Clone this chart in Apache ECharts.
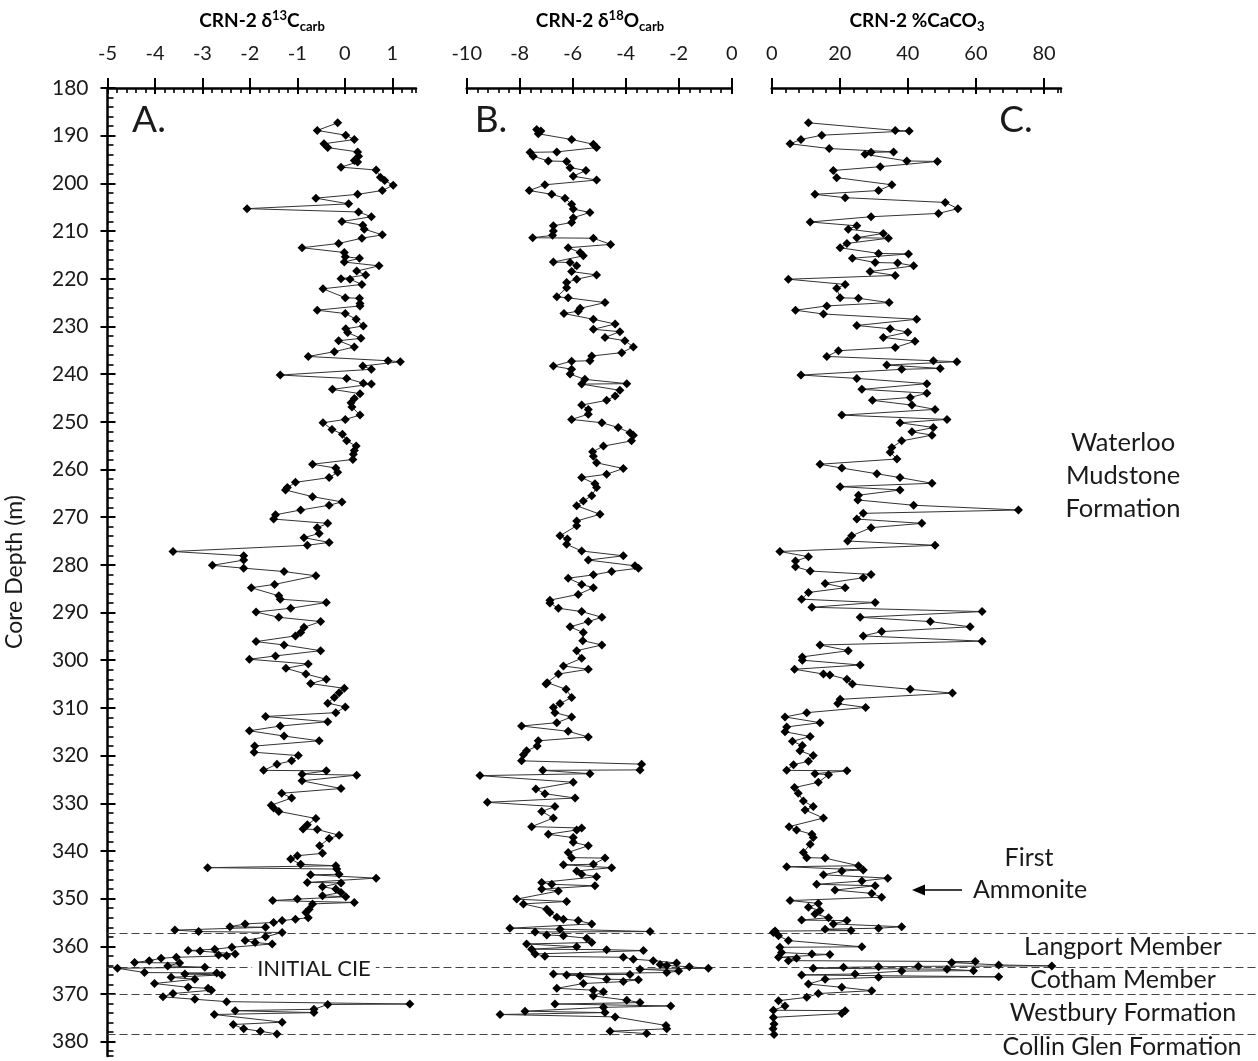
<!DOCTYPE html>
<html>
<head>
<meta charset="utf-8">
<title>CRN-2 core profiles</title>
<script src="https://cdn.jsdelivr.net/npm/echarts@6/dist/echarts.min.js"></script>
<style>
  html, body { margin: 0; padding: 0; background: #fff; }
  #main { width: 1258px; height: 1061px; }
</style>
</head>
<body>
<div id="main"></div>
<script>
// depth axis (m), shared by all three panels
const depthTicks = [180, 190, 200, 210, 220, 230, 240, 250, 260, 270, 280, 290, 300, 310, 320, 330, 340, 350, 360, 370, 380];
const c13Ticks = [-5, -4, -3, -2, -1, 0, 1];
const o18Ticks = [-10, -8, -6, -4, -2, 0];
const caco3Ticks = [0, 20, 40, 60, 80];

// formation boundaries (dashed lines)
const boundaryDepths = [357.2, 364.3, 370.1, 378.5];

// [depth, d13C carb]
const c13Carb = [
  [187.3, -0.15], [188.9, -0.58], [189.9, 0.02], [190.8, 0.20], [191.7, -0.44], [192.5, -0.36], [193.4, 0.27], [194.3, 0.29],
  [195.2, 0.20], [195.5, 0.27], [196.6, -0.08], [197.2, 0.66], [198.7, 0.75], [199.4, 0.84], [200.4, 1.02], [201.5, 0.79],
  [202.3, 0.27], [203.1, -0.61], [204.3, 0.08], [205.3, -2.06], [206.0, 0.29], [207.0, 0.56], [208.0, -0.06], [208.8, 0.38],
  [209.6, 0.41], [210.8, 0.79], [211.5, 0.36], [212.6, -0.13], [213.5, -0.90], [214.5, -0.01], [215.4, 0.01], [215.7, 0.31],
  [216.5, -0.01], [217.3, 0.72], [218.4, 0.25], [219.2, 0.44], [220.0, -0.08], [220.1, 0.11], [221.2, 0.36], [222.1, -0.46],
  [224.0, 0.01], [224.1, 0.31], [225.2, 0.32], [225.7, 0.32], [226.6, -0.58], [227.3, 0.01], [228.5, 0.24], [229.9, 0.39],
  [230.5, 0.02], [231.3, 0.06], [232.5, 0.34], [233.0, -0.13], [234.3, 0.20], [235.3, -0.22], [236.3, -0.77], [237.2, 0.91],
  [237.4, 1.17], [238.3, 0.38], [239.0, 0.56], [240.2, -1.36], [240.9, 0.04], [241.9, 0.39], [242.1, 0.56], [243.2, -0.26],
  [244.1, 0.32], [245.1, 0.20], [246.0, 0.13], [246.9, 0.15], [248.6, 0.32], [249.5, 0.01], [250.2, -0.46], [251.6, -0.27],
  [252.6, -0.05], [254.0, 0.04], [255.1, 0.24], [256.0, 0.20], [256.8, 0.18], [257.9, 0.17], [258.9, -0.68], [259.7, -0.19],
  [260.6, -0.15], [261.7, -0.33], [262.7, -1.04], [263.8, -1.21], [264.3, -1.25], [265.7, -0.68], [266.8, -0.06], [267.5, -0.33],
  [268.5, -0.93], [269.5, -1.46], [270.4, -1.50], [271.3, -0.36], [272.2, -0.58], [273.4, -0.54], [274.3, -0.86], [275.3, -0.33],
  [275.9, -0.79], [277.2, -3.62], [278.1, -2.13], [279.0, -2.13], [280.1, -2.79], [280.7, -2.13], [281.4, -1.28], [282.3, -0.61],
  [284.1, -1.48], [284.8, -1.97], [286.5, -1.39], [287.2, -1.36], [287.9, -0.39], [289.1, -1.14], [289.9, -1.87], [291.0, -1.39],
  [291.9, -0.51], [293.1, -0.86], [294.2, -0.93], [294.9, -1.04], [296.1, -1.87], [296.8, -1.28], [298.0, -0.51], [299.1, -1.46],
  [299.8, -2.01], [300.8, -0.77], [301.7, -1.24], [302.9, -0.82], [304.0, -0.39], [304.9, -0.72], [305.9, -0.01], [306.8, -0.12],
  [307.8, -0.22], [309.0, -0.36], [309.8, 0.01], [311.0, -0.19], [311.8, -1.67], [312.9, -0.36], [313.8, -1.36], [314.8, -2.01],
  [315.9, -1.28], [316.9, -0.54], [318.0, -1.90], [319.3, -1.91], [320.0, -0.98], [321.1, -1.12], [321.8, -1.43], [323.1, -1.71],
  [323.2, -0.39], [323.9, -0.90], [324.1, 0.25], [325.3, -0.90], [326.9, -0.08], [327.9, -1.33], [328.9, -1.12], [330.4, -1.55],
  [331.0, -1.50], [331.7, -1.39], [333.2, -0.61], [334.5, -0.79], [335.4, -0.88], [335.5, -0.58], [336.7, -0.12], [337.4, -0.33],
  [338.9, -0.53], [340.5, -0.47], [341.0, -1.00], [341.7, -1.14], [342.8, -0.93], [343.1, -0.19], [343.5, -2.89], [343.8, -0.17],
  [344.9, -0.12], [345.0, -0.72], [345.7, 0.66], [346.6, -0.79], [346.7, -0.08], [347.5, -0.47], [348.0, -0.19], [348.7, -0.08],
  [349.4, -0.47], [349.6, 0.02], [350.1, -1.00], [350.4, -1.52], [350.8, 0.20], [351.1, -0.68], [352.2, -0.75], [352.9, -0.82],
  [354.0, -0.77], [354.3, -1.04], [354.6, -1.32], [355.0, -1.50], [355.3, -2.10], [355.9, -2.42], [356.0, -1.67], [356.6, -3.58],
  [356.9, -3.08], [357.1, -1.32], [358.0, -1.67], [358.8, -2.10], [359.2, -1.89], [359.5, -1.53], [360.2, -2.38], [360.6, -2.74],
  [360.9, -3.30], [361.0, -3.05], [361.6, -2.31], [361.8, -2.66], [362.0, -2.49], [362.3, -3.55], [362.5, -3.87], [363.0, -4.12],
  [363.4, -4.43], [363.5, -3.48], [364.1, -3.73], [364.4, -2.95], [364.6, -4.79], [365.5, -4.22], [365.6, -2.70], [365.8, -3.37],
  [366.0, -2.59], [366.5, -3.66], [366.9, -3.16], [367.8, -4.01], [368.6, -3.30], [368.8, -2.88], [369.2, -2.81], [369.9, -3.62],
  [370.6, -3.83], [371.1, -3.16], [371.6, -2.49], [372.1, 1.37], [372.2, -0.36], [373.2, -0.65], [373.5, -2.31], [373.9, -0.65],
  [374.3, -2.75], [375.9, -1.32], [376.4, -2.35], [377.3, -2.13], [377.8, -1.78], [378.4, -1.43]
];

// [depth, d18O carb]
const o18Carb = [
  [188.7, -7.36], [189.0, -7.20], [189.6, -7.30], [190.8, -6.04], [191.8, -5.22], [192.5, -5.10], [193.4, -6.60], [193.5, -7.61],
  [194.3, -7.49], [195.3, -6.92], [195.4, -6.23], [196.7, -6.10], [197.3, -5.50], [198.5, -5.98], [199.3, -5.10], [200.3, -7.05],
  [201.5, -7.64], [202.3, -6.79], [203.1, -6.29], [204.4, -6.04], [205.4, -5.98], [206.1, -5.35], [207.2, -5.98], [208.2, -6.04],
  [208.9, -6.73], [210.0, -6.73], [210.9, -6.76], [211.4, -7.51], [211.5, -5.22], [212.8, -4.57], [213.5, -6.17], [214.5, -5.72],
  [215.2, -5.60], [216.5, -6.73], [216.6, -6.10], [217.3, -5.85], [218.5, -6.04], [219.2, -5.10], [220.1, -5.85], [220.8, -6.23],
  [221.9, -6.23], [223.8, -6.60], [224.0, -6.17], [225.0, -4.78], [226.2, -5.72], [226.8, -5.79], [227.3, -6.33], [228.5, -5.22],
  [229.5, -4.40], [230.6, -5.22], [231.1, -4.22], [232.3, -4.78], [233.0, -4.03], [234.3, -3.71], [235.5, -4.15], [236.2, -5.28],
  [237.2, -5.35], [237.3, -6.04], [238.3, -6.73], [239.0, -6.04], [240.0, -6.10], [241.1, -5.54], [242.0, -3.96], [242.1, -5.66],
  [243.4, -4.22], [244.6, -4.40], [245.5, -4.72], [246.5, -5.66], [247.4, -5.41], [248.4, -5.41], [249.5, -6.04], [250.2, -4.90],
  [251.2, -4.28], [252.3, -3.84], [252.8, -3.71], [254.0, -3.78], [255.1, -4.84], [256.3, -5.25], [257.2, -5.22], [258.6, -5.10],
  [259.8, -4.09], [261.0, -4.72], [261.7, -5.66], [263.0, -5.16], [263.8, -5.10], [265.5, -5.28], [266.6, -5.60], [267.6, -5.85],
  [269.4, -4.97], [270.8, -5.85], [271.8, -5.85], [273.9, -6.48], [274.6, -6.20], [275.7, -6.23], [277.1, -5.66], [278.1, -4.09],
  [279.0, -5.41], [280.2, -3.65], [280.7, -3.52], [281.4, -4.53], [282.1, -5.22], [282.8, -6.17], [284.1, -5.66], [284.8, -5.22],
  [286.2, -5.79], [287.4, -6.86], [288.0, -6.86], [289.1, -6.54], [289.8, -5.66], [291.0, -4.90], [291.9, -5.41], [293.0, -6.10],
  [294.2, -5.60], [295.9, -5.62], [296.8, -4.90], [298.0, -5.85], [299.6, -5.66], [301.2, -6.35], [301.9, -5.41], [302.9, -6.54],
  [304.7, -6.96], [305.0, -7.01], [306.1, -6.25], [307.8, -6.04], [309.1, -6.48], [309.9, -6.73], [311.0, -6.67], [311.9, -6.04],
  [313.1, -6.60], [313.8, -7.93], [314.9, -6.17], [316.1, -5.41], [316.9, -7.30], [318.0, -7.34], [319.0, -7.74], [319.8, -7.86],
  [321.1, -7.93], [321.8, -3.40], [323.0, -3.46], [323.1, -7.13], [323.8, -5.35], [324.2, -9.50], [325.6, -5.98], [327.0, -7.39],
  [328.0, -7.05], [328.9, -5.91], [329.8, -9.22], [330.7, -6.67], [331.7, -7.17], [333.1, -6.73], [334.9, -7.55], [335.2, -5.66],
  [335.6, -5.85], [336.5, -6.92], [337.2, -5.98], [338.2, -5.98], [338.9, -5.41], [340.3, -6.17], [341.4, -6.04], [341.5, -4.78],
  [342.8, -5.22], [342.9, -6.35], [343.5, -4.53], [344.2, -5.85], [344.9, -5.66], [345.4, -5.10], [346.6, -7.17], [347.0, -6.79],
  [347.3, -5.16], [348.0, -7.17], [348.4, -6.54], [350.1, -8.11], [350.6, -6.23], [351.1, -7.86], [352.2, -6.98], [352.9, -6.86],
  [353.9, -6.60], [354.3, -6.35], [354.6, -5.79], [355.3, -5.28], [356.2, -8.37], [356.4, -6.48], [356.9, -3.08], [357.0, -7.42],
  [357.6, -6.98], [357.8, -6.35], [358.3, -5.47], [359.2, -5.28], [359.5, -7.74], [360.1, -5.85], [360.6, -7.55], [360.7, -4.72],
  [360.9, -3.33], [361.6, -7.42], [362.1, -7.05], [362.3, -4.09], [362.7, -3.71], [363.0, -2.96], [363.5, -2.08], [363.8, -2.70],
  [364.0, -2.45], [364.3, -1.60], [364.6, -0.88], [364.8, -3.46], [365.2, -2.00], [365.5, -2.45], [365.8, -6.73], [365.9, -3.84],
  [366.0, -6.23], [366.2, -5.72], [366.9, -4.72], [367.0, -3.52], [367.4, -4.09], [367.8, -5.60], [368.8, -6.60], [369.2, -5.22],
  [369.5, -4.84], [370.4, -5.22], [371.3, -3.96], [371.8, -3.46], [372.1, -6.67], [372.5, -2.30], [372.8, -4.84], [373.6, -7.80],
  [373.9, -4.78], [374.3, -8.74], [374.8, -4.40], [376.6, -2.48], [377.3, -2.45], [377.8, -4.59], [378.3, -3.21]
];

// [depth, %CaCO3]
const caco3 = [
  [187.3, 10.8], [188.9, 36.3], [189.0, 40.4], [189.9, 14.7], [190.8, 8.6], [191.7, 5.4], [192.7, 16.9], [193.4, 35.8],
  [193.5, 29.2], [193.9, 27.4], [195.3, 39.7], [195.4, 48.7], [196.5, 31.9], [197.3, 18.1], [198.8, 19.1], [200.3, 35.3],
  [201.5, 31.4], [202.3, 12.7], [203.0, 21.6], [204.0, 51.0], [205.3, 54.7], [206.3, 49.0], [207.0, 29.2], [208.1, 11.3],
  [208.9, 25.0], [209.6, 22.5], [210.5, 32.8], [211.4, 25.0], [211.5, 34.3], [212.6, 22.1], [213.5, 20.1], [214.7, 31.4],
  [214.8, 40.2], [215.7, 23.7], [216.6, 30.4], [216.7, 37.0], [217.3, 41.7], [218.5, 28.9], [219.3, 36.3], [220.1, 4.9],
  [221.2, 21.6], [222.0, 19.1], [224.0, 20.1], [224.1, 25.5], [225.0, 34.5], [225.7, 16.2], [226.6, 7.0], [227.4, 15.2],
  [228.5, 42.6], [229.8, 25.0], [230.5, 34.8], [231.2, 40.0], [232.3, 32.8], [233.1, 42.1], [234.4, 36.3], [235.1, 19.6],
  [236.3, 16.2], [237.2, 47.5], [237.4, 54.4], [238.1, 33.8], [238.8, 49.5], [239.0, 38.2], [240.2, 8.6], [240.9, 25.0],
  [242.0, 45.6], [243.2, 26.5], [244.0, 45.6], [244.9, 40.7], [245.5, 29.6], [246.5, 41.2], [247.4, 48.0], [248.6, 20.6],
  [249.5, 51.5], [250.2, 37.7], [251.2, 47.5], [252.1, 41.2], [252.8, 47.1], [254.0, 38.2], [255.4, 35.3], [256.4, 34.8],
  [257.8, 36.8], [258.9, 14.2], [259.7, 20.6], [260.9, 30.9], [261.7, 37.7], [262.9, 47.1], [263.6, 20.1], [264.3, 37.7],
  [265.4, 25.5], [266.4, 25.3], [267.5, 41.7], [268.5, 72.5], [269.2, 26.9], [270.4, 25.0], [271.3, 44.1], [272.2, 29.2],
  [273.9, 23.5], [275.0, 22.3], [275.9, 48.0], [277.2, 2.4], [278.3, 10.8], [279.2, 7.0], [280.4, 7.0], [281.3, 11.3],
  [282.0, 29.2], [282.7, 26.9], [283.9, 15.7], [284.8, 21.6], [285.8, 10.8], [287.2, 8.8], [287.9, 30.4], [288.9, 11.8],
  [289.8, 61.8], [291.0, 26.0], [291.9, 46.6], [293.0, 58.3], [294.0, 32.3], [294.9, 26.9], [296.0, 61.8], [296.8, 14.2],
  [298.0, 22.5], [299.3, 9.0], [300.0, 9.0], [301.0, 26.0], [301.9, 6.7], [302.9, 15.2], [303.1, 17.1], [304.0, 22.1],
  [305.0, 23.7], [306.1, 40.7], [306.9, 53.1], [308.2, 20.1], [309.1, 19.4], [309.9, 27.6], [311.0, 10.3], [311.9, 3.9],
  [313.1, 14.2], [314.0, 4.4], [315.0, 3.9], [316.0, 11.3], [317.0, 6.1], [317.9, 9.0], [319.0, 8.3], [320.0, 12.2],
  [321.2, 10.8], [321.9, 6.4], [323.1, 4.4], [323.2, 22.1], [323.8, 12.7], [324.0, 16.7], [325.6, 13.7], [326.7, 6.7],
  [327.9, 7.8], [329.5, 9.3], [330.7, 12.2], [331.4, 9.8], [333.1, 15.2], [334.9, 5.1], [335.6, 7.3], [336.5, 11.8],
  [337.2, 12.2], [338.6, 11.3], [340.3, 9.3], [341.4, 10.3], [341.5, 15.7], [343.1, 25.5], [343.3, 4.4], [344.0, 26.9],
  [344.2, 20.6], [345.0, 15.2], [345.7, 34.1], [346.3, 26.5], [347.0, 13.2], [347.3, 30.4], [348.2, 18.6], [348.9, 29.4],
  [349.7, 32.3], [350.4, 5.4], [351.0, 13.7], [351.8, 10.8], [352.5, 14.2], [353.2, 12.7], [354.0, 16.7], [354.5, 8.8],
  [354.6, 22.1], [355.3, 18.1], [355.9, 38.2], [356.2, 31.4], [356.4, 15.7], [356.7, 23.3], [356.8, 1.0], [357.1, 0.5],
  [357.8, 2.0], [358.8, 4.9], [360.1, 26.5], [360.2, 2.4], [361.3, 2.9], [361.6, 11.8], [361.7, 17.1], [362.3, 2.0],
  [362.5, 7.3], [363.0, 4.9], [363.2, 59.8], [363.4, 52.9], [363.9, 66.7], [364.1, 82.3], [364.2, 43.1], [364.3, 31.4],
  [364.4, 21.1], [364.6, 12.2], [364.8, 51.5], [365.1, 59.3], [365.2, 38.2], [365.8, 24.5], [366.0, 8.8], [366.4, 66.7],
  [366.5, 31.4], [366.9, 15.7], [367.9, 10.8], [368.6, 20.6], [369.3, 29.4], [369.9, 13.7], [370.7, 10.3], [371.4, 2.0],
  [372.5, 3.9], [373.4, 0.5], [373.5, 21.6], [374.1, 20.6], [374.9, 0.5], [376.3, 0.7], [377.3, 0.4], [378.5, 0.7]
];

const FONT = 'Lato';
const INK = '#000';
const DEPTH_MIN = 180;
const DEPTH_MAX = 383;

// each panel: main axis (labels + inner half of the major ticks),
// a second axis for the outer half of the major ticks, and one for minor ticks
function topAxes(grid, min, max, ticks, minorStep) {
  const base = { gridIndex: grid, type: 'value', position: 'top', min: min, max: max, splitLine: { show: false } };
  return [
    Object.assign({}, base, {
      axisLine: { show: true, onZero: false, lineStyle: { color: INK, width: 2.5 } },
      axisTick: { show: true, inside: true, length: 6, customValues: ticks, lineStyle: { color: INK, width: 2 } },
      axisLabel: { show: true, customValues: ticks, margin: 24, fontSize: 20, color: '#1a1a1a', fontFamily: FONT }
    }),
    Object.assign({}, base, {
      axisLine: { show: false, onZero: false },
      axisTick: { show: true, inside: false, length: 10, customValues: ticks, lineStyle: { color: INK, width: 2 } },
      axisLabel: { show: false }
    }),
    Object.assign({}, base, {
      interval: minorStep,
      axisLine: { show: false, onZero: false },
      axisTick: { show: true, inside: true, length: 5, lineStyle: { color: INK, width: 1.6 } },
      axisLabel: { show: false }
    })
  ];
}

function depthAxis(grid, extra) {
  const axis = Object.assign({
    gridIndex: grid, type: 'value', inverse: true, position: 'left',
    min: DEPTH_MIN, max: DEPTH_MAX, splitLine: { show: false }
  }, extra);
  axis.axisLine = Object.assign({ onZero: false }, axis.axisLine || {});
  return axis;
}

const grids = [
  { left: 107.5, top: 88, width: 308.5, height: 968 },
  { left: 466.7, top: 88, width: 265, height: 968 },
  { left: 771.7, top: 88, width: 289.3, height: 968 },
  { left: 107.5, top: 88, right: 0, height: 968 }
].map(g => Object.assign({ outerBoundsMode: 'none', containLabel: false }, g));

const xAxes = []
  .concat(topAxes(0, -5, 1.5, c13Ticks, 0.2))
  .concat(topAxes(1, -10, 0, o18Ticks, 0.4))
  .concat(topAxes(2, 0, 85, caco3Ticks, 4))
  .concat([{ gridIndex: 3, type: 'value', min: 0, max: 1, show: false }]);

const yAxes = [
  depthAxis(0, {
    name: 'Core Depth (m)', nameLocation: 'middle', nameGap: 81,
    nameTextStyle: { fontSize: 23, color: '#1a1a1a', fontFamily: FONT },
    axisLine: { show: true, lineStyle: { color: INK, width: 2.5 } },
    axisTick: { show: true, inside: true, length: 8, customValues: depthTicks, lineStyle: { color: INK, width: 2 } },
    axisLabel: { show: true, customValues: depthTicks, margin: 19, fontSize: 21, color: '#1a1a1a', fontFamily: FONT }
  }),
  depthAxis(0, {
    axisLine: { show: false },
    axisTick: { show: true, inside: false, length: 7, customValues: depthTicks, lineStyle: { color: INK, width: 2 } },
    axisLabel: { show: false }
  }),
  depthAxis(0, {
    interval: 2,
    axisLine: { show: false },
    axisTick: { show: true, inside: true, length: 6, lineStyle: { color: INK, width: 1.6 } },
    axisLabel: { show: false }
  }),
  depthAxis(1, { show: false }),
  depthAxis(2, { show: false }),
  depthAxis(3, { show: false })
];

function profile(name, rows, xIndex, yIndex) {
  return {
    name: name, type: 'line', xAxisIndex: xIndex, yAxisIndex: yIndex,
    data: rows.map(r => [r[1], r[0]]),
    symbol: 'diamond', symbolSize: 9, showAllSymbol: true,
    itemStyle: { color: INK },
    lineStyle: { color: '#333', width: 1 },
    clip: true, z: 5
  };
}

function titleText(x, text, rich) {
  return {
    type: 'text', x: x, y: 21, z: 10,
    style: { text: text, rich: rich, align: 'center', verticalAlign: 'middle', fill: INK }
  };
}

const titleRich = {
  m: { fontSize: 19, fontWeight: 'bold', fontFamily: FONT, lineHeight: 24, verticalAlign: 'middle', fill: INK },
  sup: { fontSize: 13, fontWeight: 'bold', fontFamily: FONT, lineHeight: 13, verticalAlign: 'top', fill: INK },
  sub: { fontSize: 13, fontWeight: 'bold', fontFamily: FONT, lineHeight: 13, verticalAlign: 'bottom', fill: INK }
};

function label(x, y, text, size, extra) {
  return {
    type: 'text', x: x, y: y, z: 10,
    style: Object.assign({ text: text, fontSize: size, fontFamily: FONT, fill: '#1a1a1a', align: 'center', verticalAlign: 'middle' }, extra || {})
  };
}

const option = {
  animation: false,
  backgroundColor: '#fff',
  textStyle: { fontFamily: FONT },
  grid: grids,
  xAxis: xAxes,
  yAxis: yAxes,
  series: [
    {
      name: 'boundaries', type: 'line', xAxisIndex: 9, yAxisIndex: 5, data: [], z: 1,
      markLine: {
        silent: true, symbol: 'none', animation: false,
        label: { show: false },
        lineStyle: { type: [8, 4], color: '#444', width: 1.2 },
        data: boundaryDepths.map(d => ({ yAxis: d }))
      }
    },
    profile('d13C', c13Carb, 0, 0),
    profile('d18O', o18Carb, 3, 3),
    profile('CaCO3', caco3, 6, 4)
  ],
  graphic: [
    titleText(262, '{m|CRN-2 δ}{sup|13}{m|C}{sub|carb}', titleRich),
    titleText(600, '{m|CRN-2 δ}{sup|18}{m|O}{sub|carb}', titleRich),
    titleText(917, '{m|CRN-2 %CaCO}{sub|3}', titleRich),
    label(149, 120, 'A.', 37),
    label(491, 120, 'B.', 37),
    label(1016, 120, 'C.', 37),
    label(1123, 476, 'Waterloo\nMudstone\nFormation', 25.5, { lineHeight: 33 }),
    label(1029, 858, 'First', 25),
    label(1030, 890, 'Ammonite', 25),
    label(1123, 947, 'Langport Member', 25),
    label(1123, 980, 'Cotham Member', 25),
    label(1123, 1013, 'Westbury Formation', 25),
    label(1122, 1047, 'Collin Glen Formation', 25),
    label(314, 969, 'INITIAL CIE', 22, { backgroundColor: '#fff', padding: [2, 5] }),
    {
      type: 'line', z: 10,
      shape: { x1: 962, y1: 890, x2: 922, y2: 890 },
      style: { stroke: INK, lineWidth: 1.6 }
    },
    {
      type: 'polygon', z: 10,
      shape: { points: [[912, 890], [925, 884.5], [925, 895.5]] },
      style: { fill: INK }
    }
  ]
};

const chart = echarts.init(document.getElementById('main'), null, { renderer: 'canvas' });
chart.setOption(option);
</script>
</body>
</html>
